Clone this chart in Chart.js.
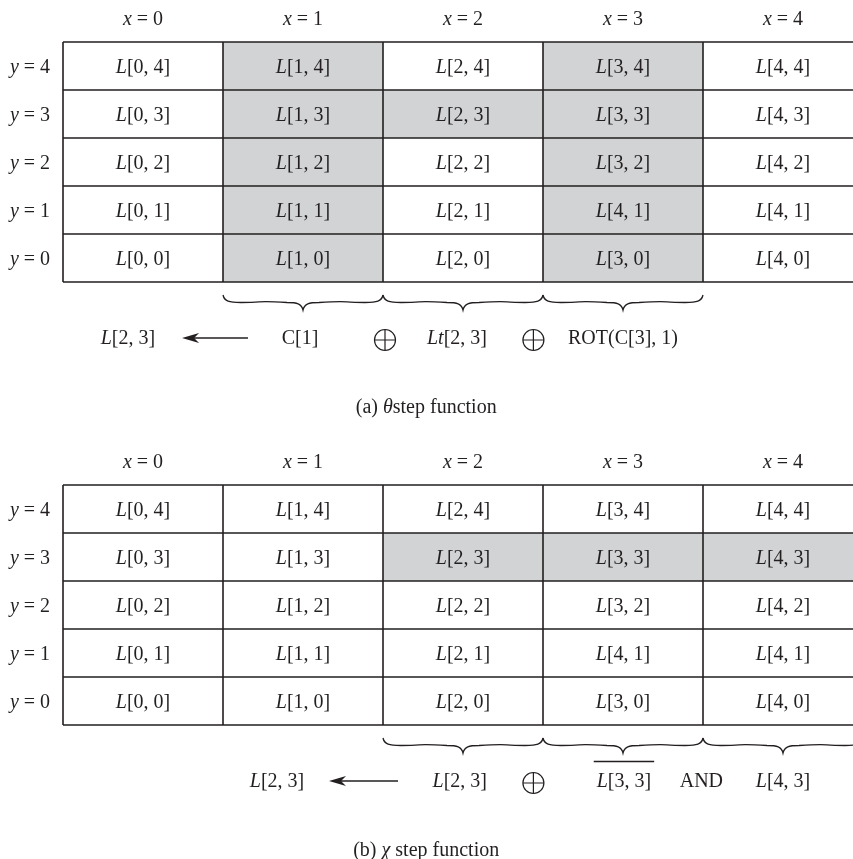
<!DOCTYPE html>
<html><head><meta charset="utf-8">
<script src="https://cdn.jsdelivr.net/npm/chart.js@4/dist/chart.umd.min.js"></script>
<style>html,body{margin:0;padding:0;background:#fff;}canvas{display:block;}</style>
</head><body>
<canvas id="panelA" width="853" height="443"></canvas>
<canvas id="panelB" width="853" height="416"></canvas>
<script>
// ---------- data ----------
const columns = [0, 1, 2, 3, 4];
const rows = [4, 3, 2, 1, 0];
// cell references [i, j] shown as L[i, j], listed row by row from y = 4 down to y = 0
const cellRefsA = [
  [[0,4],[1,4],[2,4],[3,4],[4,4]],
  [[0,3],[1,3],[2,3],[3,3],[4,3]],
  [[0,2],[1,2],[2,2],[3,2],[4,2]],
  [[0,1],[1,1],[2,1],[4,1],[4,1]],
  [[0,0],[1,0],[2,0],[3,0],[4,0]]
];
const cellRefsB = [
  [[0,4],[1,4],[2,4],[3,4],[4,4]],
  [[0,3],[1,3],[2,3],[3,3],[4,3]],
  [[0,2],[1,2],[2,2],[3,2],[4,2]],
  [[0,1],[1,1],[2,1],[4,1],[4,1]],
  [[0,0],[1,0],[2,0],[3,0],[4,0]]
];
const shadedA = [[1,0],[1,1],[1,2],[1,3],[1,4],[3,0],[3,1],[3,2],[3,3],[3,4],[2,3]];
const shadedB = [[2,3],[3,3],[4,3]];
const bracesA = [1, 2, 3];
const bracesB = [2, 3, 4];
// formula terms: runs of [text, italic]
const formulaA = [
  {kind:'text', runs:[['L',1],['[2, 3]',0]]},
  {kind:'arrow'},
  {kind:'text', runs:[['C[1]',0]]},
  {kind:'oplus'},
  {kind:'text', runs:[['Lt',1],['[2, 3]',0]]},
  {kind:'oplus'},
  {kind:'text', runs:[['ROT(C[3], 1)',0]]}
];
const formulaB = [
  {kind:'text', runs:[['L',1],['[2, 3]',0]]},
  {kind:'arrow'},
  {kind:'text', runs:[['L',1],['[2, 3]',0]]},
  {kind:'oplus'},
  {kind:'text', runs:[['L',1],['[3, 3]',0]], overline:true},
  {kind:'text', runs:[['AND',0]]},
  {kind:'text', runs:[['L',1],['[4, 3]',0]]}
];
const captionA = [['(a) ',0],['\u03B8',1],['step function',0]];
const captionB = [['(b) ',0],['\u03C7',1],[' step function',0]];

// ---------- layout (column / row units) ----------
const layoutA = {formulaX:[0.406,[0.744,1.156],1.481,2.0125,2.4625,2.94,3.5], captionX:2.27};
const layoutB = {formulaX:[1.3375,[1.6625,2.094],2.48,2.94,3.506,3.99,4.5], captionX:2.27};

const INK = '#231f20';
const GREY = '#d1d3d4';
const FONT = '"Liberation Serif", "Times New Roman", serif';
const FS = 20;

function runsWidth(ctx, runs){
  let w = 0;
  for (const [t, it] of runs){ ctx.font = (it?'italic ':'') + FS + 'px ' + FONT; w += ctx.measureText(t).width; }
  return w;
}
function drawRuns(ctx, runs, cx, cy){
  const w = runsWidth(ctx, runs);
  let x = cx - w/2;
  ctx.fillStyle = INK; ctx.textBaseline = 'alphabetic'; ctx.textAlign = 'left';
  for (const [t, it] of runs){
    ctx.font = (it?'italic ':'') + FS + 'px ' + FONT;
    ctx.fillText(t, x, cy + 7);
    x += ctx.measureText(t).width;
  }
  return w;
}
function brace(ctx, x0, x1, yTop, yTip){
  const xc = (x0 + x1)/2, ym = (yTop + yTip)/2;
  ctx.beginPath();
  ctx.moveTo(x0, yTop);
  ctx.bezierCurveTo(x0+1.5, ym-1, x0+6, ym, x0+18, ym);
  ctx.bezierCurveTo(x0+45, ym, xc-50, ym-2, xc-16, ym);
  ctx.bezierCurveTo(xc-6, ym, xc-1.5, ym+1, xc, yTip);
  ctx.bezierCurveTo(xc+1.5, ym+1, xc+6, ym, xc+16, ym);
  ctx.bezierCurveTo(xc+50, ym-2, x1-45, ym, x1-18, ym);
  ctx.bezierCurveTo(x1-6, ym, x1-1.5, ym-1, x1, yTop);
  ctx.strokeStyle = INK; ctx.lineWidth = 1.3; ctx.stroke();
}

function makePanel(id, H, cellRefs, shaded, braces, formula, layout, caption){
  const ctxEl = document.getElementById(id);
  const yMax = 282/48, yMin = (282 - H)/48;
  const panelPlugin = {
    id: 'panel_' + id,
    afterDraw(chart){
      const ctx = chart.ctx, xs = chart.scales.x, ys = chart.scales.y;
      const X = v => xs.getPixelForValue(v), Y = v => ys.getPixelForValue(v);
      ctx.save();
      // shaded cells
      ctx.fillStyle = GREY;
      for (const [cx, cy] of shaded){
        ctx.fillRect(X(cx), Y(cy+1), X(cx+1)-X(cx), Y(cy)-Y(cy+1));
      }
      // grid lines
      ctx.strokeStyle = INK; ctx.lineWidth = 1.6;
      ctx.beginPath();
      for (let r = 0; r <= rows.length; r++){ ctx.moveTo(X(0), Y(r)); ctx.lineTo(X(columns.length), Y(r)); }
      for (let c = 0; c <= columns.length; c++){ ctx.moveTo(X(c), Y(0)); ctx.lineTo(X(c), Y(rows.length)); }
      ctx.stroke();
      // column headers
      columns.forEach(c => drawRuns(ctx, [['x',1],[' = ' + c,0]], X(c+0.5), Y(5.5)));
      // row headers
      rows.forEach(r => drawRuns(ctx, [['y',1],[' = ' + r,0]], X(-0.206), Y(r+0.5)));
      // cell labels
      rows.forEach((r, ri) => {
        columns.forEach((c, ci) => {
          const [i, j] = cellRefs[ri][ci];
          drawRuns(ctx, [['L',1],['[' + i + ', ' + j + ']',0]], X(c+0.5), Y(r+0.5));
        });
      });
      // braces
      for (const c of braces){ brace(ctx, X(c), X(c+1), Y(-13/48), Y(-28/48)); }
      // formula
      const fy = Y(-55/48);
      formula.forEach((term, k) => {
        const pos = layout.formulaX[k];
        if (term.kind === 'text'){
          const w = drawRuns(ctx, term.runs, X(pos), fy);
          if (term.overline){
            const oy = Math.round(fy - 19) + 0.5;
            ctx.beginPath(); ctx.lineWidth = 1.5; ctx.strokeStyle = INK;
            ctx.moveTo(X(pos) - w/2 - 3, oy); ctx.lineTo(X(pos) + w/2 + 3, oy); ctx.stroke();
          }
        } else if (term.kind === 'arrow'){
          const xl = X(pos[0]), xr = X(pos[1]), ay = fy + 1;
          ctx.beginPath(); ctx.lineWidth = 1.3; ctx.strokeStyle = INK;
          ctx.moveTo(xl + 10, ay); ctx.lineTo(xr, ay); ctx.stroke();
          ctx.beginPath(); ctx.fillStyle = INK;
          ctx.moveTo(xl, ay); ctx.lineTo(xl + 17, ay - 5); ctx.lineTo(xl + 12, ay); ctx.lineTo(xl + 17, ay + 5); ctx.closePath(); ctx.fill();
        } else if (term.kind === 'oplus'){
          const ox = X(pos), oy = fy + 3, rr = 10.5;
          ctx.beginPath(); ctx.lineWidth = 1.2; ctx.strokeStyle = INK;
          ctx.arc(ox, oy, rr, 0, Math.PI*2);
          ctx.moveTo(ox - rr, oy); ctx.lineTo(ox + rr, oy);
          ctx.moveTo(ox, oy - rr); ctx.lineTo(ox, oy + rr);
          ctx.stroke();
        }
      });
      // caption
      drawRuns(ctx, caption, X(layout.captionX), Y(-124/48));
      ctx.restore();
    }
  };
  return new Chart(ctxEl, {
    type: 'scatter',
    data: { datasets: [{ data: [], pointRadius: 0 }] },
    options: {
      responsive: false, animation: false, devicePixelRatio: 1,
      layout: { padding: 0 },
      plugins: { legend: { display: false }, tooltip: { enabled: false }, title: { display: false } },
      scales: {
        x: { type: 'linear', display: false, min: -63/160, max: 790/160 },
        y: { type: 'linear', display: false, min: yMin, max: yMax }
      }
    },
    plugins: [panelPlugin]
  });
}

makePanel('panelA', 443, cellRefsA, shadedA, bracesA, formulaA, layoutA, captionA);
makePanel('panelB', 416, cellRefsB, shadedB, bracesB, formulaB, layoutB, captionB);
</script>
</body></html>
